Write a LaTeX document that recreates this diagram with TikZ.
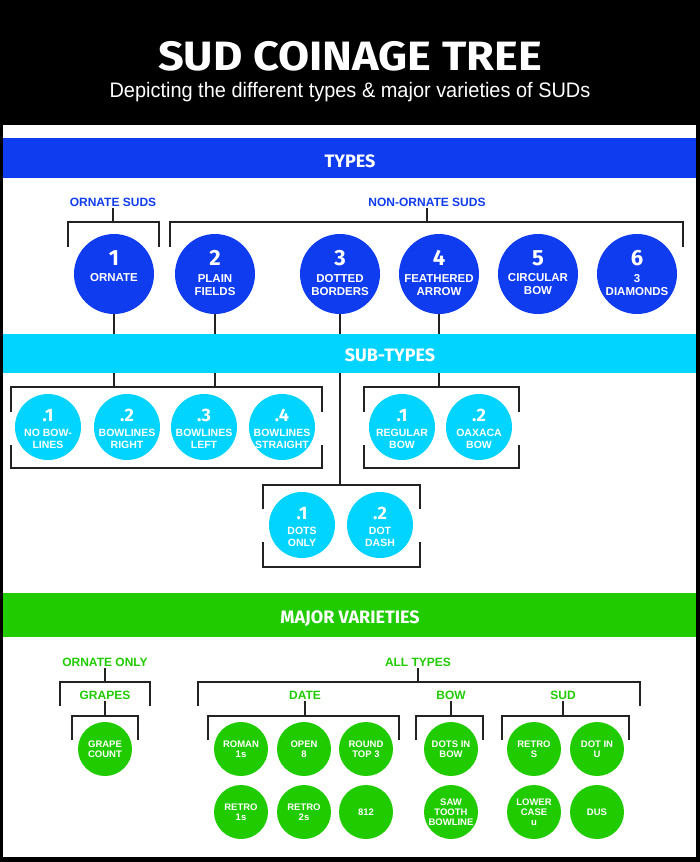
\documentclass[tikz,border=0pt]{standalone}
\usepackage{fontspec}
\setmainfont{Liberation Sans}
\newfontfamily\headfont{Fira Sans}
\newfontfamily\titlefont{Fira Sans}[FakeStretch=1.1]
\newfontfamily\subfont{Liberation Sans}[FakeStretch=0.95]
\usetikzlibrary{positioning}
\definecolor{typeblue}{RGB}{16,60,240}
\definecolor{subcyan}{RGB}{0,212,255}
\definecolor{vargreen}{RGB}{32,204,0}
\definecolor{brkgray}{RGB}{34,34,34}
\newcommand{\numfont}{\headfont\bfseries\fontsize{22}{22}\selectfont}
\newcommand{\subnumfont}{\headfont\bfseries\fontsize{18}{18}\selectfont}

\begin{document}
\begin{tikzpicture}[x=1pt, y=-1pt,
            brk/.style={draw=brkgray, line width=2pt},
            bandtxt/.style={anchor=base, text=white, font=\headfont\bfseries\fontsize{18}{18}\selectfont},
            grouplbl/.style={anchor=base, inner sep=2pt, font=\bfseries\fontsize{12}{12}\selectfont},
            typecoin/.style={circle, fill=typeblue, minimum size=80pt, inner sep=0pt},
            subcoin/.style={circle, fill=subcyan, minimum size=66pt, inner sep=0pt},
            varcoin/.style={circle, fill=vargreen, minimum size=54pt, inner sep=0pt, text=white, align=center, font=\bfseries\fontsize{9.5}{10}\selectfont},
            cointxt/.style={anchor=north, inner sep=0pt, text=white, align=center}
        ]
        \useasboundingbox (0,0) rectangle (700,862);
        \fill[black] (0,0) rectangle (700,862);
        \fill[white] (3,125) rectangle (696,857);
        % heading
        \node[anchor=base, text=white, font=\titlefont\bfseries\fontsize{41}{41}\selectfont] (title) at (350,70) {SUD COINAGE TREE};
        \node[anchor=base, text=white, font=\subfont\fontsize{21}{21}\selectfont] (subtitle) at (350,97) {Depicting the different types \& major varieties of SUDs};
        % types
        \node[grouplbl, text=typeblue] (ornsuds) at (113,206) {ORNATE SUDS};
        \node[grouplbl, text=typeblue] (nonorn) at (427,206) {NON-ORNATE SUDS};
        \coordinate (ornbrk) at (68,222);
        \coordinate (nonbrk) at (170,222);
        \draw[brk] (ornsuds.south) -- (ornsuds.south |- ornbrk);
        \draw[brk] (nonorn.south) -- (nonorn.south |- nonbrk);
        \draw[brk] (68,247) |- (159,222) -- (159,247);
        \draw[brk] (170,247) |- (683,222) -- (683,247);
        \foreach \n/\x/\lbl in {1/114/ORNATE, 2/215/{PLAIN\\FIELDS}, 3/340/{DOTTED\\BORDERS}, 4/439/{FEATHERED\\ARROW}, 5/538/{CIRCULAR\\BOW}, 6/637/{3\\DIAMONDS}} {
            \node[typecoin] (t\n) at (\x,274) {};
            \node[cointxt, font=\bfseries\fontsize{11.5}{13}\selectfont] at ([yshift=-16.5pt]t\n.north) {{\numfont\n}\\[3.5pt]\lbl};
        }
        % sub-types
        \coordinate (orngrp) at (11,387);
        \coordinate (feagrp) at (364,387);
        \coordinate (dotgrp) at (263,485);
        \draw[brk] (t1.south) -- (t1.south |- orngrp);
        \draw[brk] (t2.south) -- (t2.south |- orngrp);
        \draw[brk] (t4.south) -- (t4.south |- feagrp);
        \draw[brk] (t3.south) -- (t3.south |- dotgrp);
        \draw[brk] (11,412) |- (322,387) -- (322,412);
        \draw[brk] (11,445) |- (322,468) -- (322,445);
        \draw[brk] (364,412) |- (519,387) -- (519,412);
        \draw[brk] (364,445) |- (519,468) -- (519,445);
        \draw[brk] (263,509) |- (420,485) -- (420,509);
        \draw[brk] (263,542) |- (420,567) -- (420,542);
        \foreach \nm/\x/\y/\n/\lbl in {o1/48/427/.1/{NO BOW-\\LINES}, o2/127/427/.2/{BOWLINES\\RIGHT}, o3/204/427/.3/{BOWLINES\\LEFT}, o4/282/427/.4/{BOWLINES\\STRAIGHT}, f1/402/427/.1/{REGULAR\\BOW}, f2/479/427/.2/{OAXACA\\BOW}, d1/302/525/.1/{DOTS\\ONLY}, d2/380/525/.2/{DOT\\DASH}} {
            \node[subcoin] (\nm) at (\x,\y) {};
            \node[cointxt, font=\bfseries\fontsize{10.5}{12}\selectfont] at ([yshift=-15pt]\nm.north) {{\subnumfont\n}\\[3pt]\lbl};
        }
        % bands
        \fill[typeblue] (3,138) rectangle (696,178);
        \node[bandtxt] (typeshd) at (350,167) {TYPES};
        \fill[subcyan] (3,334) rectangle (696,373);
        \node[bandtxt] (subhd) at (390,361) {SUB-TYPES};
        \fill[vargreen] (3,593) rectangle (696,637);
        \node[bandtxt] (varhd) at (350,623) {MAJOR VARIETIES};
        % major varieties
        \node[grouplbl, text=vargreen] (ornonly) at (105,666) {ORNATE ONLY};
        \node[grouplbl, text=vargreen] (alltypes) at (418,666) {ALL TYPES};
        \node[grouplbl, text=vargreen] (grapes) at (105,699) {GRAPES};
        \node[grouplbl, text=vargreen] (date) at (305,699) {DATE};
        \node[grouplbl, text=vargreen] (bow) at (451,699) {BOW};
        \node[grouplbl, text=vargreen] (sud) at (563,699) {SUD};
        \coordinate (topbrk) at (60,682);
        \coordinate (lowbrk) at (72,716);
        \draw[brk] (ornonly.south) -- (ornonly.south |- topbrk);
        \draw[brk] (alltypes.south) -- (alltypes.south |- topbrk);
        \foreach \lb in {grapes, date, bow, sud} {
            \draw[brk] (\lb.south) -- (\lb.south |- lowbrk);
        }
        \draw[brk] (60,706) |- (150,682) -- (150,706);
        \draw[brk] (198,706) |- (640,682) -- (640,706);
        \draw[brk] (72,740) |- (138,716) -- (138,740);
        \draw[brk] (208,740) |- (399,716) -- (399,740);
        \draw[brk] (416,740) |- (483,716) -- (483,740);
        \draw[brk] (502,740) |- (629,716) -- (629,740);
        \foreach \nm/\x/\y/\lbl in {grape/105/749/{GRAPE\\COUNT}, rom/241/749/{ROMAN\\1s}, open/304/749/{OPEN\\8}, rtop/366/749/{ROUND\\TOP 3}, rone/241/812/{RETRO\\1s}, rtwo/304/812/{RETRO\\2s}, eot/366/812/812, dinb/451/749/{DOTS IN\\BOW}, saw/451/812/{SAW\\TOOTH\\BOWLINE}, rets/534/749/{RETRO\\S}, dotu/597/749/{DOT IN\\U}, lowu/534/812/{LOWER\\CASE\\u}, dus/597/812/DUS} {
            \node[varcoin] (\nm) at (\x,\y) {\lbl};
        }
\end{tikzpicture}
\end{document}
